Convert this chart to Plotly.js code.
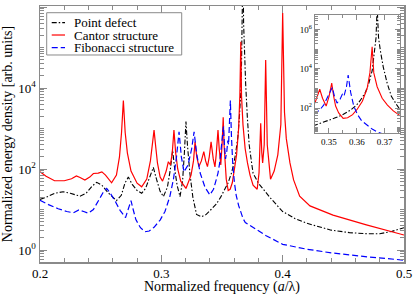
<!DOCTYPE html>
<html>
<head>
<meta charset="utf-8">
<script src="https://cdn.plot.ly/plotly-3.0.1.min.js"></script>
<style>html,body{margin:0;padding:0;background:#fff;}#chart{width:415px;height:295px;}</style>
</head>
<body>
<div id="chart"></div>
<script>
// Values. Densities are stored as exponents (log10) as read on the log axis.
const pointDefectFreq = [0.200,0.205,0.212,0.219,0.225,0.233,0.238,0.243,0.2467,0.251,0.256,0.260,0.263,0.267,0.270,0.2728,0.276,0.280,0.2838,0.287,0.290,0.2934,0.296,0.299,0.3017,0.305,0.3075,0.3093,0.311,0.313,0.3154,0.3175,0.319,0.3203,0.3215,0.3235,0.326,0.329,0.333,0.337,0.341,
  0.3452,0.3488,0.3518,0.3549,0.3578,0.3599,0.3613,0.3631,0.3643,0.3655,0.3661,0.3669,0.3673,0.3678,0.3685,0.3695,0.3709,0.3724,0.3744,0.3756,
  0.380,0.385,0.390,0.400,0.410,0.420,0.440,0.455,0.470,0.480,0.490,0.500];
const pointDefectExp = [1.25,1.30,1.40,1.44,1.40,1.33,1.40,1.58,1.67,1.60,1.42,1.30,1.22,1.35,1.65,1.80,1.62,1.47,1.40,1.52,1.75,2.04,1.75,1.45,1.32,1.55,2.0,2.47,2.0,1.6,1.32,1.7,2.4,3.17,2.6,1.9,1.3,0.88,0.82,0.88,1.0,
  1.13,1.3,1.47,1.65,1.9,2.15,2.4,2.8,3.27,3.9,4.6,5.6,7.2,5.6,4.9,4.1,3.27,2.6,2.15,1.9,
  1.65,1.45,1.28,0.95,0.78,0.66,0.49,0.43,0.40,0.40,0.46,0.55];

const cantorFreq = [0.200,0.205,0.212,0.220,0.226,0.230,0.233,0.237,0.241,0.244,0.248,0.251,0.254,0.259,0.263,0.2655,0.2672,0.2687,0.2702,0.272,0.275,0.280,0.2838,0.288,0.291,0.2928,0.294,0.2952,0.2968,0.299,0.301,0.304,0.3058,0.3075,0.309,0.3104,0.3118,0.3135,0.316,0.3203,0.3245,0.3265,0.3278,0.3292,0.331,0.333,0.335,0.3365,0.338,0.3395,0.341,0.3428,0.3442,
  0.3452,0.3467,0.3477,0.349,0.35005,0.351,0.3517,0.3524,0.3535,0.3551,0.3567,0.3585,0.3602,0.362,0.3637,0.3647,0.3655,0.3661,0.3673,0.3691,0.371,0.3731,0.3756,
  0.379,0.3805,0.3819,0.3828,0.3835,0.3848,0.386,0.3873,0.390,0.393,0.396,0.3985,0.400,0.4015,0.403,0.406,0.409,0.414,0.4225,0.4415,0.469,0.500];
const cantorExp = [1.93,1.82,1.71,1.71,1.76,1.83,1.79,1.73,1.80,1.89,1.90,1.93,1.85,1.66,1.85,2.3,2.9,3.69,2.9,2.4,1.95,1.65,1.56,1.75,2.2,2.6,2.96,2.6,2.15,1.8,1.7,1.95,2.18,2.1,2.4,2.96,2.4,2.0,1.7,1.52,1.85,2.2,2.67,2.3,2.06,2.2,2.43,2.2,2.06,2.3,2.67,2.25,2.05,
  2.35,2.96,2.5,2.1,2.6,3.28,2.6,2.1,1.75,1.47,1.5,1.66,1.95,2.35,3.0,3.8,5.14,3.8,3.09,2.5,2.15,1.85,1.6,
  1.5,1.9,3.13,2.4,2.15,2.6,4.69,2.6,1.75,1.95,2.35,3.1,5.85,3.4,2.75,2.15,1.73,1.33,1.09,0.86,0.62,0.37];

const fibonacciFreq = [0.200,0.207,0.215,0.222,0.2275,0.232,0.236,0.2398,0.244,0.248,0.252,0.255,0.258,0.262,0.266,0.2705,0.273,0.275,0.2768,0.279,0.2828,0.2865,0.290,0.294,0.299,0.303,0.307,0.310,0.3125,0.3146,0.3165,0.3187,0.322,0.325,0.327,0.329,0.332,0.336,0.340,0.343,
  0.3452,0.3467,0.3481,0.3495,0.3506,0.3512,0.352,0.3529,0.354,0.3548,0.3554,0.3563,0.3569,0.3578,0.3589,0.3603,0.3617,0.3637,0.3655,0.3673,0.3692,
  0.376,0.386,0.400,0.420,0.440,0.470,0.500];
const fibonacciExp = [1.23,1.12,1.02,0.95,0.92,0.99,0.95,0.91,1.0,1.2,1.42,1.52,1.4,1.2,0.98,0.8,1.05,1.22,1.0,0.75,0.55,0.45,0.47,0.56,0.74,0.95,1.32,1.75,2.3,2.92,2.3,1.93,2.1,2.5,2.92,2.4,1.9,1.55,1.36,1.5,
  1.73,1.9,2.15,2.55,2.9,3.05,2.6,2.25,2.45,2.7,2.6,3.1,3.69,2.8,2.1,1.65,1.35,1.1,0.92,0.78,0.68,
  0.55,0.36,0.14,0.02,-0.07,-0.17,-0.25];

const seriesNames = ['Point defect', 'Cantor structure', 'Fibonacci structure'];
const mainTickVals = [0.2, 0.3, 0.4, 0.5];
const mainTickText = ['0.2', '0.3', '0.4', '0.5'];
const yTickVals = [1, 100, 10000, 1000000];
const yTickText = ['10<sup>0</sup>', '10<sup>2</sup>', '10<sup>4</sup>', '10<sup>6</sup>'];
const insetXTickVals = [0.35, 0.36, 0.37];
const insetXTickText = ['0.35', '0.36', '0.37'];
const insetYTickVals = [100, 10000, 1000000];
const insetYTickText = ['10<sup>2</sup>', '10<sup>4</sup>', '10<sup>6</sup>'];

const toDensity = e => e.map(v => Math.pow(10, v));

const styles = [
  {color: '#000000', width: 1.1, dash: '5px,2px,1.5px,2px'},
  {color: '#ff0000', width: 1.2, dash: 'solid'},
  {color: '#0000ff', width: 1.2, dash: '6px,3px'}
];
const xs = [pointDefectFreq, cantorFreq, fibonacciFreq];
const ys = [pointDefectExp, cantorExp, fibonacciExp];

const traces = [];
for (let i = 0; i < 3; i++) {
  traces.push({x: xs[i], y: toDensity(ys[i]), name: seriesNames[i], type: 'scatter', mode: 'lines',
    line: styles[i], xaxis: 'x', yaxis: 'y', showlegend: false, hoverinfo: 'skip'});
}
for (let i = 0; i < 3; i++) {
  traces.push({x: xs[i], y: toDensity(ys[i]), name: seriesNames[i], type: 'scatter', mode: 'lines',
    line: Object.assign({}, styles[i], {width: 1.1}), xaxis: 'x2', yaxis: 'y2', showlegend: false, hoverinfo: 'skip'});
}

function logMinor(lo, hi) {
  const v = [];
  for (let k = lo; k <= hi; k++) {
    for (let m = 1; m <= 9; m++) v.push(m * Math.pow(10, k));
  }
  return v;
}

const frame = '#8a8a8a';
const serif = 'Liberation Serif';

// Hand-built legend box (paper coordinates of the main plot area)
const legendBox = {x0: 0.0184, x1: 0.3893, y0: 0.8086, y1: 0.9738};
const legendRowsY = [0.9348, 0.8867, 0.8371];
const legendSampleX = [0.0322, 0.0687];
const legendTextX = 0.0915;

const shapes = [{type: 'rect', xref: 'paper', yref: 'paper', x0: legendBox.x0, x1: legendBox.x1, y0: legendBox.y0, y1: legendBox.y1,
  line: {color: frame, width: 1}, fillcolor: '#ffffff', layer: 'above'}];
const annotations = [];
for (let i = 0; i < 3; i++) {
  shapes.push({type: 'line', xref: 'paper', yref: 'paper', x0: legendSampleX[0], x1: legendSampleX[1],
    y0: legendRowsY[i], y1: legendRowsY[i], line: {color: styles[i].color, width: 1.2, dash: styles[i].dash}, layer: 'above'});
  annotations.push({xref: 'paper', yref: 'paper', x: legendTextX, y: legendRowsY[i], xanchor: 'left', yanchor: 'middle',
    text: seriesNames[i], showarrow: false, borderpad: 0, font: {family: serif, size: 13, color: '#000'}});
}

const layout = {
  width: 415, height: 295,
  margin: {l: 40, r: 11, t: 6, b: 33},
  paper_bgcolor: '#ffffff', plot_bgcolor: '#ffffff',
  font: {family: serif, size: 13, color: '#000'},
  showlegend: false,
  shapes: shapes,
  annotations: annotations,
  xaxis: {domain: [0, 1], range: [0.2, 0.5], tickmode: 'array', tickvals: mainTickVals, ticktext: mainTickText,
    ticks: 'inside', ticklen: 7, tickcolor: frame, tickwidth: 1, mirror: 'allticks', showline: true,
    linecolor: frame, linewidth: 1.5, showgrid: false, zeroline: false, ticklabelstandoff: -1,
    tickfont: {family: serif, size: 13, color: '#000'},
    minor: {tickmode: 'linear', tick0: 0.2, dtick: 0.02, ticks: 'inside', ticklen: 4, tickcolor: frame, showgrid: false},
    title: {text: 'Normalized frequency (<i>a</i>/λ)', font: {family: serif, size: 14, color: '#000'}, standoff: 1}},
  yaxis: {domain: [0, 1], type: 'log', range: [-0.296, 6.025], tickmode: 'array', tickvals: yTickVals, ticktext: yTickText,
    ticks: 'inside', ticklen: 7, tickcolor: frame, tickwidth: 1, mirror: 'allticks', showline: true,
    linecolor: frame, linewidth: 1.5, showgrid: false, zeroline: false,
    tickfont: {family: serif, size: 13, color: '#000'},
    minor: {tickmode: 'array', tickvals: logMinor(-1, 6), ticks: 'inside', ticklen: 4, tickcolor: frame, showgrid: false},
    title: {text: 'Normalized energy density [arb. units]', font: {family: serif, size: 14, color: '#000'}, standoff: 4}},
  xaxis2: {domain: [0.7555, 0.989], anchor: 'y2', range: [0.345, 0.3755], tickmode: 'array',
    tickvals: insetXTickVals, ticktext: insetXTickText,
    ticks: 'inside', ticklen: 5, tickcolor: frame, tickwidth: 1, mirror: 'allticks', showline: true,
    linecolor: frame, linewidth: 1.2, showgrid: false, zeroline: false,
    tickfont: {family: serif, size: 9, color: '#000'},
    minor: {tickmode: 'linear', tick0: 0.345, dtick: 0.005, ticks: 'inside', ticklen: 3, tickcolor: frame, showgrid: false}},
  yaxis2: {domain: [0.504, 0.965], anchor: 'x2', type: 'log', range: [0.72, 6.77], tickmode: 'array',
    tickvals: insetYTickVals, ticktext: insetYTickText,
    ticks: 'inside', ticklen: 5, tickcolor: frame, tickwidth: 1, mirror: 'allticks', showline: true,
    linecolor: frame, linewidth: 1.2, showgrid: false, zeroline: false,
    tickfont: {family: serif, size: 9, color: '#000'},
    minor: {tickmode: 'array', tickvals: logMinor(0, 6), ticks: 'inside', ticklen: 3, tickcolor: frame, showgrid: false}}
};

Plotly.newPlot('chart', traces, layout, {staticPlot: true, displayModeBar: false});
</script>
</body>
</html>
